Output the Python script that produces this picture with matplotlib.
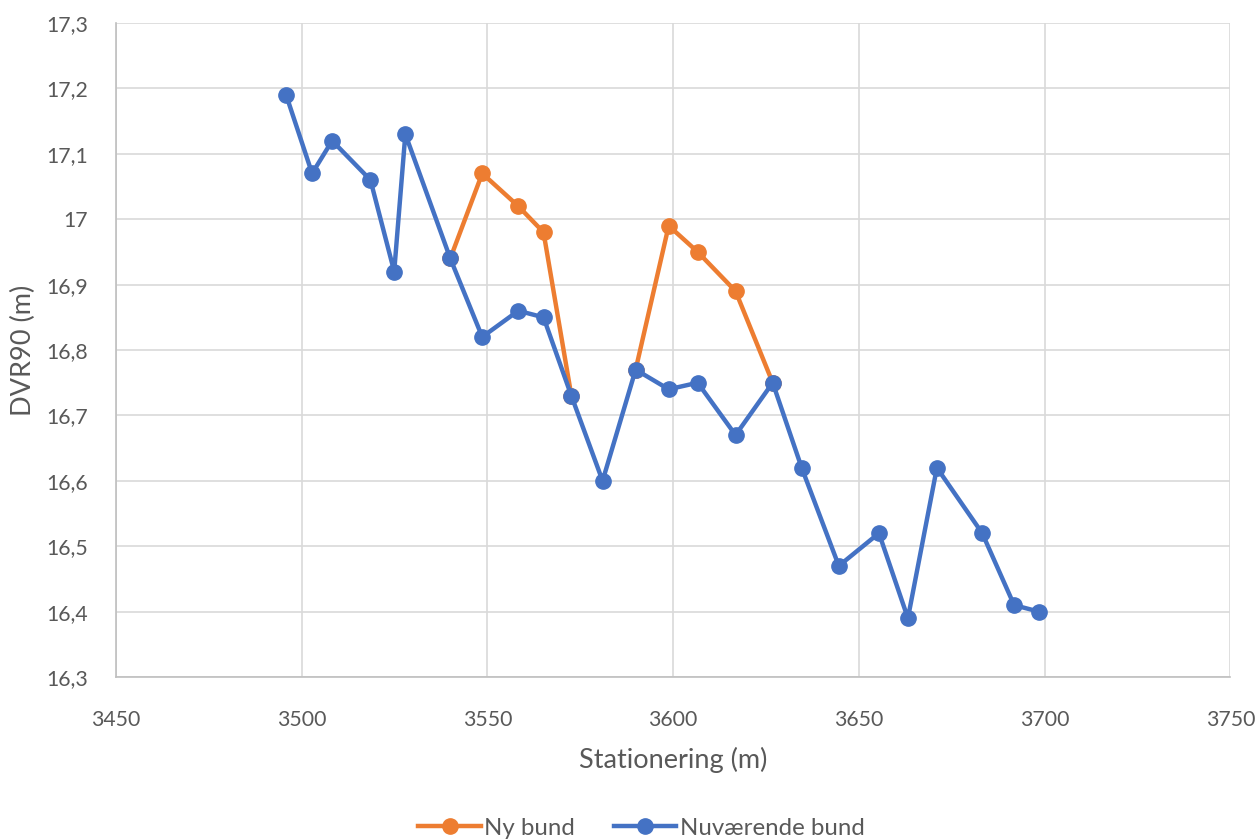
import numpy as np
import matplotlib
matplotlib.use("Agg")
import matplotlib.pyplot as plt
from matplotlib.ticker import FuncFormatter, MultipleLocator

plt.rcParams['font.family'] = ['Lato', 'DejaVu Sans']

# stationering (m) and levels DVR90 (m)
station = [3495.8, 3502.8, 3508.2, 3518.5, 3524.9, 3527.9, 3540.0, 3548.6, 3558.3,
           3565.1, 3572.6, 3581.0, 3589.9, 3598.8, 3606.6, 3616.8, 3626.8, 3634.6,
           3644.6, 3655.4, 3663.2, 3671.0, 3683.2, 3691.8, 3698.5]
nuv_bund = [17.19, 17.07, 17.12, 17.06, 16.92, 17.13, 16.94, 16.82, 16.86,
            16.85, 16.73, 16.60, 16.77, 16.74, 16.75, 16.67, 16.75, 16.62,
            16.47, 16.52, 16.39, 16.62, 16.52, 16.41, 16.40]
nan = np.nan
ny_bund = [nan, nan, nan, nan, nan, nan, 16.94, 17.07, 17.02,
           16.98, 16.73, nan, 16.77, 16.99, 16.95, 16.89, 16.75, nan,
           nan, nan, nan, nan, nan, nan, nan]

orange = '#ED7D31'
blue = '#4472C4'
grey = '#595959'

fig = plt.figure(figsize=(12.58, 8.39), dpi=100)
ax = fig.add_axes([0.0922, 0.193, 0.8858, 0.7796])

ax.plot(station, ny_bund, color=orange, lw=3.2, marker='o', ms=11, label='Ny bund')
ax.plot(station, nuv_bund, color=blue, lw=3.2, marker='o', ms=11, label='Nuværende bund')

ax.set_xlim(3450, 3750)
ax.set_ylim(16.3, 17.3)
ax.xaxis.set_major_locator(MultipleLocator(50))
ax.yaxis.set_major_locator(MultipleLocator(0.1))
ax.yaxis.set_major_formatter(FuncFormatter(lambda v, p: f"{round(v, 1):g}".replace('.', ',')))

ax.grid(True, color='#d9d9d9', lw=1.2)
ax.set_axisbelow(True)
for s in ['top', 'right']:
    ax.spines[s].set_visible(False)
for s in ['left', 'bottom']:
    ax.spines[s].set_color('#bfbfbf')
    ax.spines[s].set_linewidth(1.2)
ax.tick_params(length=0, labelsize=15.3, labelcolor=grey)
ax.tick_params(axis='y', pad=20)
ax.tick_params(axis='x', pad=24)

ax.set_xlabel('Stationering (m)', fontsize=19.5, color=grey, labelpad=12)
ax.set_ylabel('DVR90 (m)', fontsize=19.5, color=grey)
ax.yaxis.set_label_coords(-0.072, 0.5)

fig.legend(*ax.get_legend_handles_labels(), loc='center', bbox_to_anchor=(0.51, 0.013),
           ncol=2, frameon=False, fontsize=17.3, labelcolor=grey, handlelength=2.6,
           handletextpad=0.15, columnspacing=1.6, borderpad=0)

fig.savefig('out.png', dpi=100)
